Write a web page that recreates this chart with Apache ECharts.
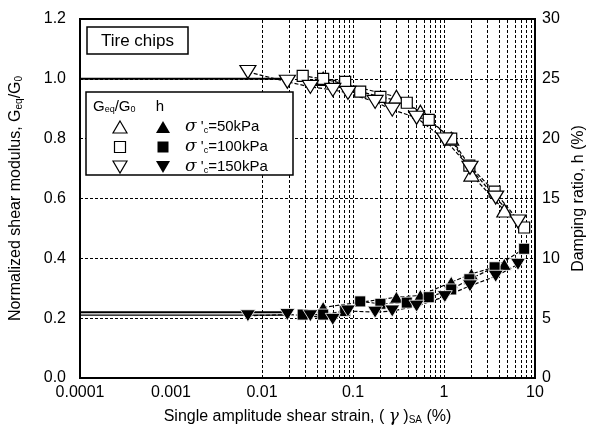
<!DOCTYPE html>
<html>
<head>
<meta charset="utf-8">
<script src="https://cdn.jsdelivr.net/npm/echarts@6/dist/echarts.min.js"></script>
<style>html,body{margin:0;padding:0;background:#fff}#c{width:605px;height:430px}</style>
</head>
<body>
<div id="c"></div>
<script>
// ---- data ----
const xTickLabels = ['0.0001', '0.001', '0.01', '0.1', '1', '10'];
const leftTicks = ['0.0', '0.2', '0.4', '0.6', '0.8', '1.0', '1.2'];
const rightTicks = ['0', '5', '10', '15', '20', '25', '30'];

const strain50  = [0.047, 0.3, 0.55, 1.2, 2.0, 4.6];
const G50       = [1.0, 0.94, 0.89, 0.80, 0.68, 0.56];
const h50       = [5.9, 6.75, 6.9, 8.0, 8.7, 9.5];

const strain100 = [0.028, 0.047, 0.082, 0.12, 0.2, 0.39, 0.68, 1.2, 1.9, 3.6, 7.6];
const G100      = [1.01, 1.0, 0.99, 0.957, 0.94, 0.92, 0.863, 0.80, 0.71, 0.623, 0.503];
const h100      = [5.3, 5.3, 5.6, 6.4, 6.2, 6.3, 6.75, 7.4, 8.25, 9.25, 10.8];

const strain150 = [0.007, 0.019, 0.034, 0.06, 0.088, 0.175, 0.27, 0.5, 1.02, 1.93, 3.7, 6.5];
const G150      = [1.023, 0.99, 0.973, 0.963, 0.953, 0.923, 0.897, 0.87, 0.797, 0.703, 0.603, 0.523];
const h150      = [5.2, 5.3, 5.2, 4.9, 5.6, 5.5, 5.6, 6.0, 6.8, 7.7, 8.5, 9.5];

// initial constant lines (small strain)
const Gline   = {x: [0.0001, 0.02], y: [1.0, 1.0]};
const hLineA  = {x: [0.0001, 0.02], y: [5.5, 5.5]};
const hLineB  = {x: [0.0001, 0.02], y: [5.25, 5.25]};

// ---- build ----
const pairs = (xs, ys) => xs.map((x, i) => [x, ys[i]]);
const gridStrains = [];
for (let e = -4; e <= 0; e++) for (let m = 1; m <= 9; m++) gridStrains.push(+(m * Math.pow(10, e)).toPrecision(3));
gridStrains.push(10);

const FONT = 'Liberation Sans, Arial, sans-serif';
const dash = [3, 2];
const downTri = 'path://M0,0 L20,0 L10,17 Z';
const upTri = 'path://M10,0 L20,17 L0,17 Z';

function ptSeries(name, xs, ys, yIdx, symbol, size, filled) {
  return {
    name, type: 'line', yAxisIndex: yIdx, data: pairs(xs, ys),
    symbol, symbolSize: size, showSymbol: true, z: 5,
    lineStyle: {color: '#000', width: 1.2, type: [4, 2]},
    itemStyle: filled ? {color: '#000', borderColor: '#fff', borderWidth: 0.8}
                      : {color: '#fff', borderColor: '#000', borderWidth: 1.2},
    emphasis: {disabled: true}, animation: false
  };
}
function solidLine(obj, yIdx, width) {
  return {type: 'line', yAxisIndex: yIdx, data: pairs(obj.x, obj.y), symbol: 'none', z: 4,
    lineStyle: {color: '#000', width: width}, animation: false};
}

const chart = echarts.init(document.getElementById('c'), null, {renderer: 'canvas'});
const tickFmt = v => {
  const lg = Math.round(Math.log10(v));
  return xTickLabels[lg + 4] !== undefined ? xTickLabels[lg + 4] : '';
};
const option = {
  animation: false,
  backgroundColor: '#fff',
  grid: {left: 80, right: 70, top: 19, bottom: 51, show: true, borderColor: '#000', borderWidth: 2, backgroundColor: 'transparent'},
  xAxis: {
    type: 'log', logBase: 10, min: 0.0001, max: 10,
    axisLine: {show: true, lineStyle: {color: '#000', width: 2}},
    axisTick: {show: false}, splitLine: {show: false}, minorTick: {show: false},
    axisLabel: {color: '#000', fontSize: 16, fontFamily: FONT, margin: 7, formatter: tickFmt, showMinLabel: true, showMaxLabel: true},
    name: 'Single amplitude shear strain, ( {g|γ} ){s|SA} (%)',
    nameLocation: 'middle', nameGap: 30,
    nameTextStyle: {color: '#000', fontSize: 16, fontFamily: FONT,
      rich: {g: {fontSize: 17, fontFamily: 'DejaVu Serif', fontStyle: 'italic', color: '#000'},
             s: {fontSize: 10, fontFamily: FONT, verticalAlign: 'bottom', padding: [6, 0, 0, 0], color: '#000'}}}
  },
  yAxis: [{
    type: 'value', min: 0, max: 1.2, interval: 0.2, position: 'left',
    axisLine: {show: true, lineStyle: {color: '#000', width: 2}},
    axisTick: {show: false},
    splitLine: {show: true, lineStyle: {color: '#000', width: 1, type: dash}},
    axisLabel: {color: '#000', fontSize: 16, fontFamily: FONT, margin: 14, formatter: v => leftTicks[Math.round(v / 0.2)]},
    name: 'Normalized shear modulus, G{s|eq}/G{s|0}',
    nameLocation: 'middle', nameGap: 56, nameRotate: 90,
    nameTextStyle: {color: '#000', fontSize: 16, fontFamily: FONT,
      rich: {s: {fontSize: 10, fontFamily: FONT, verticalAlign: 'bottom', padding: [6, 0, 0, 0], color: '#000'}}}
  }, {
    type: 'value', min: 0, max: 30, interval: 5, position: 'right',
    axisLine: {show: true, lineStyle: {color: '#000', width: 2}},
    axisTick: {show: false}, splitLine: {show: false},
    axisLabel: {color: '#000', fontSize: 16, fontFamily: FONT, margin: 7, formatter: v => rightTicks[Math.round(v / 5)]},
    name: 'Damping ratio, h (%)',
    nameLocation: 'middle', nameGap: 35, nameRotate: 90,
    nameTextStyle: {color: '#000', fontSize: 16, fontFamily: FONT}
  }],
  series: [
    {type: 'line', data: [], z: 1, silent: true,
     markLine: {silent: true, symbol: 'none', label: {show: false}, animation: false,
       lineStyle: {color: '#000', width: 1, type: dash},
       data: gridStrains.map(v => ({xAxis: v}))}},
    solidLine(Gline, 0, 2),
    solidLine(hLineA, 1, 2),
    solidLine(hLineB, 1, 1.2),
    ptSeries('G50', strain50, G50, 0, upTri, [15, 13], false),
    ptSeries('G100', strain100, G100, 0, 'rect', 11, false),
    ptSeries('G150', strain150, G150, 0, downTri, [16, 13], false),
    ptSeries('h50', strain50, h50, 1, upTri, [14, 12], true),
    ptSeries('h100', strain100, h100, 1, 'rect', 11, true),
    ptSeries('h150', strain150, h150, 1, downTri, [15, 12], true)
  ],
  graphic: [
    {type: 'rect', shape: {x: 87, y: 27, width: 101, height: 27}, style: {fill: '#fff', stroke: '#000', lineWidth: 1.5}, z: 100},
    {type: 'text', x: 137.5, y: 41, style: {text: 'Tire chips', fontSize: 17, fontFamily: FONT, fill: '#000', align: 'center', verticalAlign: 'middle'}, z: 101},
    {type: 'rect', shape: {x: 86, y: 92, width: 207, height: 83}, style: {fill: '#fff', stroke: '#000', lineWidth: 1.5}, z: 100},
    {type: 'text', x: 93, y: 107, style: {text: 'G{s|eq}/G{s|0}', fontSize: 15, fontFamily: FONT, fill: '#000', verticalAlign: 'middle',
      rich: {s: {fontSize: 9, fontFamily: FONT, fill: '#000', verticalAlign: 'bottom', padding: [5, 0, 0, 0]}}}, z: 101},
    {type: 'text', x: 160, y: 107, style: {text: 'h', fontSize: 15, fontFamily: FONT, fill: '#000', align: 'center', verticalAlign: 'middle'}, z: 101},
    {type: 'polygon', shape: {points: [[120, 121], [127, 133], [113, 133]]}, style: {fill: '#fff', stroke: '#000', lineWidth: 1.2}, z: 101},
    {type: 'polygon', shape: {points: [[163, 121], [170, 133], [156, 133]]}, style: {fill: '#000'}, z: 101},
    {type: 'rect', shape: {x: 114.5, y: 141.5, width: 11, height: 11}, style: {fill: '#fff', stroke: '#000', lineWidth: 1.2}, z: 101},
    {type: 'rect', shape: {x: 157.5, y: 141.5, width: 11, height: 11}, style: {fill: '#000'}, z: 101},
    {type: 'polygon', shape: {points: [[113, 161], [127, 161], [120, 173]]}, style: {fill: '#fff', stroke: '#000', lineWidth: 1.2}, z: 101},
    {type: 'polygon', shape: {points: [[156, 161], [170, 161], [163, 173]]}, style: {fill: '#000'}, z: 101},
    ...['50', '100', '150'].map((p, i) => ({type: 'text', x: 185, y: 127 + 20 * i,
      style: {text: "{g|σ} '{s|c}=" + p + 'kPa', fontSize: 15, fontFamily: FONT, fill: '#000', verticalAlign: 'middle',
        rich: {g: {fontSize: 17, fontFamily: 'DejaVu Serif', fontStyle: 'italic', fill: '#000'},
               s: {fontSize: 9, fontFamily: FONT, fill: '#000', verticalAlign: 'bottom', padding: [5, 0, 0, 0]}}}, z: 101}))
  ]
};
chart.setOption(option);
</script>
</body>
</html>
